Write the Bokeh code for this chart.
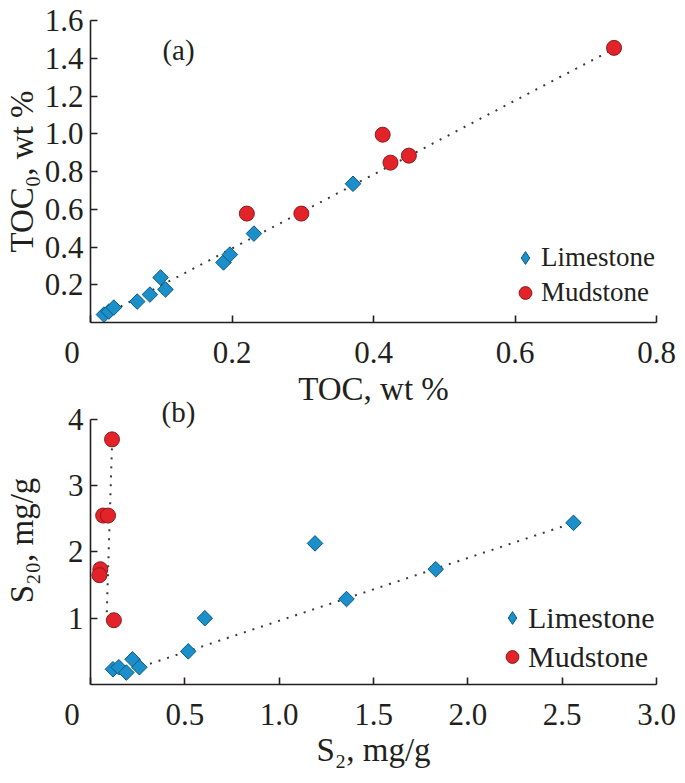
import math
from bokeh.plotting import figure
from bokeh.models import Legend, LegendItem, FixedTicker, Range1d, PrintfTickFormatter, Label
from bokeh.layouts import column
from bokeh.embed import file_html
from bokeh.resources import INLINE

# ---------------- data: panel (a) ----------------
toc_lime = [0.019, 0.026, 0.033, 0.066, 0.084, 0.099, 0.106, 0.188, 0.197, 0.231, 0.371]
toc0_lime = [0.042, 0.058, 0.079, 0.111, 0.148, 0.238, 0.175, 0.318, 0.360, 0.471, 0.735]
toc_mud = [0.221, 0.298, 0.413, 0.424, 0.450, 0.740]
toc0_mud = [0.577, 0.577, 0.995, 0.847, 0.884, 1.455]
trend_a_x = [0.02, 0.735]
trend_a_y = [0.04, 1.44]
xticks_a = [0, 0.2, 0.4, 0.6, 0.8]
yticks_a = [0.2, 0.4, 0.6, 0.8, 1.0, 1.2, 1.4, 1.6]

# ---------------- data: panel (b) ----------------
s2_lime = [0.119, 0.150, 0.190, 0.223, 0.259, 0.518, 0.606, 1.190, 1.357, 1.830, 2.560]
s20_lime = [0.23, 0.26, 0.18, 0.38, 0.26, 0.50, 1.00, 2.13, 1.29, 1.74, 2.44]
s2_mud = [0.114, 0.067, 0.093, 0.052, 0.047, 0.124]
s20_mud = [3.70, 2.55, 2.55, 1.74, 1.65, 0.97]
trend_b_lime_x = [0.27, 2.57]
trend_b_lime_y = [0.27, 2.45]
trend_b_mud_x = [0.115, 0.085]
trend_b_mud_y = [3.70, 0.98]
xticks_b = [0, 0.5, 1.0, 1.5, 2.0, 2.5, 3.0]
yticks_b = [1, 2, 3, 4]

FONT = "Liberation Serif"
INK = "#231f20"
BLUE, BLUE_EDGE = "#1b8fca", "#0b5a80"
RED, RED_EDGE = "#e2232a", "#8e1a1a"
DOT = "#3a3a3a"
ORIGIN = "0\u2003\u2009"   # origin label, pushed left of the corner like the original


def make_fig(w, h, xr, yr, bl, br, bt, bb):
    p = figure(width=w, height=h, x_range=Range1d(*xr), y_range=Range1d(*yr),
               output_backend="svg", toolbar_location=None,
               min_border_left=bl, min_border_right=br, min_border_top=bt, min_border_bottom=bb)
    p.outline_line_color = None
    p.xgrid.visible = False
    p.ygrid.visible = False
    p.border_fill_color = None
    p.background_fill_color = None
    for ax in (p.xaxis[0], p.yaxis[0]):
        ax.axis_line_color = INK
        ax.axis_line_width = 1.6
        ax.major_tick_in = 7
        ax.major_tick_out = 0
        ax.major_tick_line_color = INK
        ax.major_tick_line_width = 1.6
        ax.minor_tick_line_color = None
        ax.major_label_text_font = FONT
        ax.major_label_text_font_size = "31px"
        ax.major_label_text_color = INK
        ax.axis_label_text_font = FONT
        ax.axis_label_text_font_size = "33px"
        ax.axis_label_text_font_style = "normal"
        ax.axis_label_text_color = INK
    p.xaxis.major_label_standoff = 12
    p.yaxis.major_label_standoff = 7
    return p


def legend(p, loc, gh, size):
    nan = float("nan")
    lg_l = p.scatter(x=[nan], y=[nan], marker="diamond", fill_color=BLUE, line_color=BLUE_EDGE, line_width=1)
    lg_m = p.scatter(x=[nan], y=[nan], marker="circle", fill_color=RED, line_color=RED_EDGE, line_width=1)
    leg = Legend(items=[LegendItem(label="Limestone", renderers=[lg_l]),
                        LegendItem(label="Mudstone", renderers=[lg_m])],
                 location=loc, orientation="vertical",
                 glyph_width=32, glyph_height=gh, label_height=gh, label_width=130,
                 label_standoff=0, spacing=0, padding=0, margin=0,
                 border_line_color=None, background_fill_alpha=0,
                 label_text_font=FONT, label_text_font_size=size, label_text_color=INK)
    p.add_layout(leg)


def panel_tag(p, x, y, text):
    p.add_layout(Label(x=x, y=y, x_units="screen", y_units="screen", text=text,
                       text_font=FONT, text_font_size="29px", text_color=INK,
                       text_align="center", text_baseline="middle"))


# ---------------- panel (a) ----------------
pa = make_fig(685, 412, (0, 0.8), (0, 1.6), 90, 29, 20, 90)
pa.xaxis.ticker = FixedTicker(ticks=xticks_a)
pa.yaxis.ticker = FixedTicker(ticks=yticks_a)
pa.xaxis.formatter = PrintfTickFormatter(format="%.1f")
pa.yaxis.formatter = PrintfTickFormatter(format="%.1f")
pa.xaxis.major_label_overrides = {0: ORIGIN}
pa.xaxis.axis_label = "TOC, wt %"
pa.yaxis.axis_label = "TOC\u2080, wt %"
pa.xaxis.axis_label_standoff = -2
pa.yaxis.axis_label_standoff = 2

pa.line(trend_a_x, trend_a_y, line_color=DOT, line_width=2, line_dash="2 7")
pa.scatter(toc_lime, toc0_lime, marker="square", angle=math.pi / 4, size=11,
           fill_color=BLUE, line_color=BLUE_EDGE, line_width=1)
pa.scatter(toc_mud, toc0_mud, marker="circle", size=15,
           fill_color=RED, line_color=RED_EDGE, line_width=1)
legend(pa, (419, 12), 35, "27px")
panel_tag(pa, 88, 273, "(a)")

# ---------------- panel (b) ----------------
# frame reaches a little above y = 4 so the "(b)" tag fits; axis drawn only over 0..4
pb = make_fig(685, 389, (0, 3.0), (0, 4.347), 90, 20, 4, 97)
pb.margin = (-20, 0, 0, 0)
pb.xaxis.ticker = FixedTicker(ticks=xticks_b)
pb.yaxis.ticker = FixedTicker(ticks=yticks_b)
pb.yaxis.bounds = (0, 4)
pb.xaxis.formatter = PrintfTickFormatter(format="%.1f")
pb.yaxis.formatter = PrintfTickFormatter(format="%d")
pb.xaxis.major_label_overrides = {0: ORIGIN}
pb.xaxis.axis_label = "S\u2082, mg/g"
pb.yaxis.axis_label = "S\u2082\u2080, mg/g"
pb.xaxis.axis_label_standoff = -3
pb.yaxis.axis_label_standoff = 25

pb.line(trend_b_lime_x, trend_b_lime_y, line_color=DOT, line_width=2, line_dash="2 7")
pb.line(trend_b_mud_x, trend_b_mud_y, line_color=DOT, line_width=2, line_dash="2 7")
pb.scatter(s2_lime, s20_lime, marker="square", angle=math.pi / 4, size=11,
           fill_color=BLUE, line_color=BLUE_EDGE, line_width=1)
pb.scatter(s2_mud, s20_mud, marker="circle", size=15,
           fill_color=RED, line_color=RED_EDGE, line_width=1)
legend(pb, (406, 8), 39, "30px")
panel_tag(pb, 88, 273, "(b)")

layout = column(pa, pb, spacing=0)
open("out.html", "w").write(file_html(layout, INLINE))
